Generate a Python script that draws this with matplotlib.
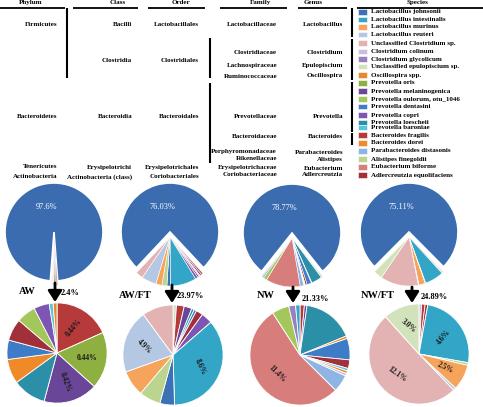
import matplotlib
matplotlib.use('Agg')
import matplotlib.pyplot as plt
from matplotlib.patches import Rectangle
import numpy as np

# ---- data -------------------------------------------------------------
species = [
    "Lactobacillus johnsonii", "Lactobacillus intestinalis", "Lactobacillus murinus",
    "Lactobacillus reuteri", "Unclassified Clostridium sp.", "Clostridium colinum",
    "Clostridium glycolicum", "Unclassified epulopiscium sp.", "Oscillospira spp.",
    "Prevotella oris", "Prevotella melaninogenica", "Prevotella oulorum, otu_1046",
    "Prevotella dentasini", "Prevotella copri", "Prevotella loescheii",
    "Prevotella baroniae", "Bacteroides fragilis", "Bacteroides dorei",
    "Parabacteroides distasonis", "Alistipes finegoldii", "Eubacterium biforme",
    "Adlercreutzia equolifaciens",
]

phylum = ["Firmicutes", "Bacteroidetes", "Tenericutes", "Actinobacteria"]
klass = ["Bacilli", "Clostridia", "Bacteroidia", "Erysipelotrichi", "Actinobacteria (class)"]
order = ["Lactobacillales", "Clostridiales", "Bacteroidales", "Erysipelotrichales", "Coriobacteriales"]
family = ["Lactobacillaceae", "Clostridiaceae", "Lachnospiraceae", "Ruminococcaceae",
          "Prevotellaceae", "Bacteroidaceae", "Porphyromonadaceae", "Rikenellaceae",
          "Erysipelotrichaceae", "Coriobacteriaceae"]
genus = ["Lactobacillus", "Clostridium", "Epulopiscium", "Oscillospira", "Prevotella",
         "Bacteroides", "Parabacteroides", "Alistipes", "Eubacterium", "Adlercreutzia"]

samples = ["AW", "AW/FT", "NW", "NW/FT"]
major_pct = [97.6, 76.03, 78.77, 75.11]
minor_pct = [2.4, 23.97, 21.33, 24.89]

# minor species of each sample, clockwise from 12 o'clock (% of total)
aw_species = ["Bacteroides fragilis", "Prevotella oris", "Prevotella melaninogenica",
              "Prevotella loescheii", "Bacteroides dorei", "Prevotella dentasini",
              "Adlercreutzia equolifaciens", "Prevotella oulorum, otu_1046",
              "Prevotella copri", "Prevotella baroniae", "Oscillospira spp."]
aw_values = [0.44, 0.44, 0.42, 0.26, 0.19, 0.15, 0.17, 0.15, 0.12, 0.03, 0.03]
aw_labels = ["0.44%", "0.44%", "0.42%", "", "", "", "", "", "", "", ""]

awft_species = ["Unclassified epulopiscium sp.", "Bacteroides fragilis",
                "Prevotella melaninogenica", "Prevotella loescheii", "Prevotella dentasini",
                "Adlercreutzia equolifaciens", "Prevotella copri",
                "Lactobacillus intestinalis", "Lactobacillus johnsonii",
                "Alistipes finegoldii", "Lactobacillus murinus", "Lactobacillus reuteri",
                "Unclassified Clostridium sp."]
awft_values = [0.27, 0.60, 0.60, 0.20, 0.20, 0.53, 0.87, 8.6, 1.13, 1.66, 2.00, 4.9, 2.41]
awft_labels = ["", "", "", "", "", "", "", "8.6%", "", "", "", "4.9%", ""]

nw_species = ["Bacteroides fragilis", "Prevotella melaninogenica", "Prevotella loescheii",
              "Bacteroides dorei", "Prevotella dentasini", "Adlercreutzia equolifaciens",
              "Prevotella baroniae", "Oscillospira spp.", "Clostridium colinum",
              "Parabacteroides distasonis", "Eubacterium biforme",
              "Prevotella oulorum, otu_1046", "Clostridium glycolicum",
              "Lactobacillus intestinalis"]
nw_values = [0.30, 0.18, 3.53, 0.18, 1.48, 0.59, 0.18, 0.18, 0.18, 1.18, 11.4, 1.18, 0.47, 0.30]
nw_labels = ["", "", "", "", "", "", "", "", "", "", "11.4%", "", "", ""]

nwft_species = ["Clostridium colinum", "Bacteroides fragilis", "Adlercreutzia equolifaciens",
                "Lactobacillus intestinalis", "Alistipes finegoldii", "Lactobacillus murinus",
                "Lactobacillus reuteri", "Unclassified Clostridium sp.",
                "Unclassified epulopiscium sp."]
nwft_values = [0.21, 0.28, 0.21, 6.22, 0.21, 2.07, 0.21, 12.58, 2.90]
nwft_labels = ["", "", "", "4.6%", "", "2.5%", "", "12.1%", "3.0%"]

# ---- style ------------------------------------------------------------
colors = {
    "Lactobacillus johnsonii": "#3C72B5", "Lactobacillus intestinalis": "#33A6C8",
    "Lactobacillus murinus": "#F6A35B", "Lactobacillus reuteri": "#B4C7E3",
    "Unclassified Clostridium sp.": "#E3B2B3", "Clostridium colinum": "#C9BEDB",
    "Clostridium glycolicum": "#9A7EC2", "Unclassified epulopiscium sp.": "#D2E2BA",
    "Oscillospira spp.": "#E6892C", "Prevotella oris": "#8DB040",
    "Prevotella melaninogenica": "#6A4699", "Prevotella oulorum, otu_1046": "#A3C75A",
    "Prevotella dentasini": "#3F7CC8", "Prevotella copri": "#7D56B3",
    "Prevotella loescheii": "#2B8FA8", "Prevotella baroniae": "#5BC4DC",
    "Bacteroides fragilis": "#B73A3B", "Bacteroides dorei": "#F08A28",
    "Parabacteroides distasonis": "#8DB4E2", "Alistipes finegoldii": "#BBD48E",
    "Eubacterium biforme": "#D77E7D", "Adlercreutzia equolifaciens": "#A2303A",
}
BIG = "#3A6CAF"
SERIF = ['Liberation Serif', 'DejaVu Serif']
W, H = 483, 407

fig = plt.figure(figsize=(W / 100, H / 100), dpi=100)
ax = fig.add_axes([0, 0, 1, 1])


def Y(y):
    return H - y


def txt(x, y, s, ha='left', size=5, weight='bold', color='black', rot=0):
    ax.text(x, Y(y), s, ha=ha, va='center', fontsize=size, fontweight=weight,
            family=SERIF, color=color, rotation=rot, rotation_mode='anchor')


def line(x0, y0, x1, y1, lw=1.5):
    ax.plot([x0, x1], [Y(y0), Y(y1)], color='black', lw=lw, solid_capstyle='butt')


# ---- taxonomy table ---------------------------------------------------
headers = ["Phylum", "Class", "Order", "Family", "Genus", "Species"]
header_x = [31, 118, 181, 260, 313, 418]
header_lines = [(0, 65), (73, 138), (148, 205), (220, 287), (298, 347), (357, 483)]
for h, hx, (l0, l1) in zip(headers, header_x, header_lines):
    txt(hx, 2.5, h, ha='center')
    line(l0, 7.5, l1, 7.5, lw=1.3)

phylum_rows = [25, 116, 167, 177]
class_rows = [25, 61, 116, 168, 177]
order_rows = [25, 61, 116, 168, 177]
family_rows = [25, 53, 65, 77, 116, 137, 151, 159, 167, 175]
genus_rows = [25, 53, 65, 76, 116, 137, 152, 160, 168, 175]
for names, rows, xr in [(phylum, phylum_rows, 57), (klass, class_rows, 132),
                        (order, order_rows, 199), (family, family_rows, 277),
                        (genus, genus_rows, 343)]:
    for n, r in zip(names, rows):
        txt(xr, r, n, ha='right')

line(67, 8, 67, 78)
line(210, 38, 210, 78)
line(210, 83, 210, 163)
for y0, y1 in [(8, 37), (39, 80), (82, 132), (133, 145)]:
    line(352, y0, 352, y1)

legend_rows = [12, 19.5, 27, 34.5, 43, 51.5, 59, 66.5, 75, 83, 91, 99, 106.5, 115,
               122.5, 127.5, 135, 143, 151, 159, 167, 175]
for sp, r in zip(species, legend_rows):
    ax.add_patch(Rectangle((358, Y(r) - 2.6), 9, 5.2, facecolor=colors[sp],
                           edgecolor='white', lw=0.4))
    txt(371, r, sp, ha='left')

# ---- pies ---------------------------------------------------------------
sample_species = [aw_species, awft_species, nw_species, nwft_species]
sample_values = [aw_values, awft_values, nw_values, nwft_values]
sample_labels = [aw_labels, awft_labels, nw_labels, nwft_labels]
label_rot = [[50, 0, -70], [-65, -45], [-45], [50, -25, -35, -40]]

top_centers = [(54, 232), (170, 232), (292, 233), (409, 232)]
top_r = 49
bot_centers = [(57, 353), (173, 355), (300, 355), (419, 354)]
bot_r = 50
name_pos = [(27, 291), (135, 296), (266, 295), (378, 295)]
minor_pos = [(61, 293), (177, 296), (302, 299), (421, 297)]
arrow_x = [55, 172, 293, 412]
arrow_y = [(283, 302), (285, 303), (287, 303), (287, 303)]

for i in range(4):
    sp, vals, labs = sample_species[i], sample_values[i], sample_labels[i]
    cols = [colors[s] for s in sp]
    cx, cy = top_centers[i]
    minor_deg = 360 * minor_pct[i] / (minor_pct[i] + major_pct[i])
    start = 270 + minor_deg / 2
    scale = minor_pct[i] / sum(vals)
    all_vals = [v * scale for v in vals] + [major_pct[i]]
    all_cols = cols + [BIG]

    # big slice
    wa, _ = ax.pie(all_vals, colors=all_cols, startangle=start, counterclock=False,
                   center=(cx, Y(cy)), radius=top_r, frame=True,
                   wedgeprops=dict(edgecolor='white', linewidth=1.2))
    for w in wa[:-1]:
        w.set_visible(False)
    # minor group pulled out downwards
    wb, _ = ax.pie(all_vals, colors=all_cols, startangle=start, counterclock=False,
                   center=(cx, Y(cy) - 5), radius=top_r, frame=True,
                   wedgeprops=dict(edgecolor='white', linewidth=0.4))
    wb[-1].set_visible(False)
    txt(cx - 8, cy - 25, f"{major_pct[i]}%", ha='center', size=6, weight='normal',
        color='white')

    # breakdown pie
    bx, by = bot_centers[i]
    explode = [0.1 if l else 0.035 for l in labs]
    wc, _ = ax.pie(vals, colors=cols, startangle=90, counterclock=False,
                   center=(bx, Y(by)), radius=bot_r, explode=explode, frame=True,
                   wedgeprops=dict(edgecolor='white', linewidth=0.6))
    k = 0
    for w, l in zip(wc, labs):
        if not l:
            continue
        mid = np.radians((w.theta1 + w.theta2) / 2)
        px = w.center[0] + 0.6 * w.r * np.cos(mid)
        py = w.center[1] + 0.6 * w.r * np.sin(mid)
        ax.text(px, py, l, ha='center', va='center', fontsize=5.5, fontweight='bold',
                family=SERIF, color='#1a1a1a', rotation=label_rot[i][k],
                rotation_mode='anchor')
        k += 1

    # captions and arrow
    nx, ny = name_pos[i]
    txt(nx, ny, samples[i], ha='center', size=7.5)
    mx, my = minor_pos[i]
    txt(mx, my, f"{minor_pct[i]}%", ha='left', size=6)
    ay0, ay1 = arrow_y[i]
    ax.annotate('', xy=(arrow_x[i], Y(ay1)), xytext=(arrow_x[i], Y(ay0)),
                arrowprops=dict(arrowstyle='-|>,head_width=0.35,head_length=0.55',
                                lw=2.0, color='black', mutation_scale=12,
                                shrinkA=0, shrinkB=0))

ax.set_xlim(0, W)
ax.set_ylim(0, H)
ax.set_aspect('equal')
ax.axis('off')
fig.savefig('out.png', dpi=100)
